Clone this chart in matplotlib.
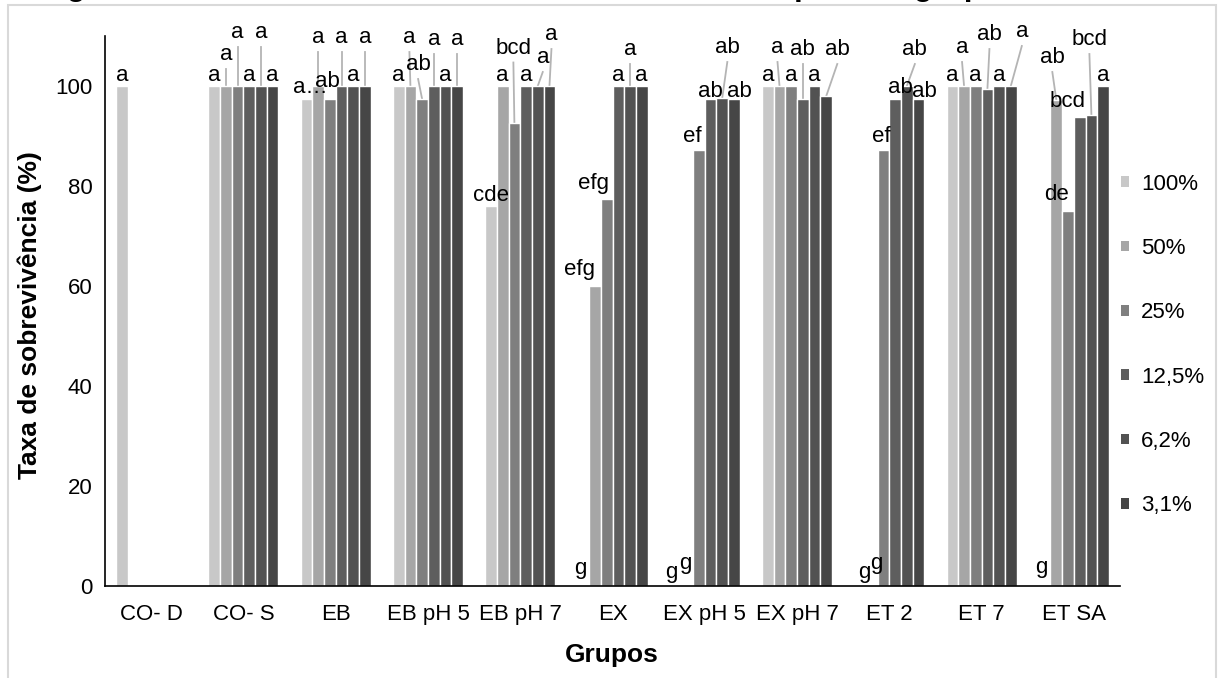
import numpy as np
import matplotlib.pyplot as plt
from matplotlib.patches import Patch, Rectangle

plt.rcParams['font.family'] = ['Liberation Sans', 'DejaVu Sans']

groups = ['CO- D', 'CO- S', 'EB', 'EB pH 5', 'EB pH 7', 'EX', 'EX pH 5',
          'EX pH 7', 'ET 2', 'ET 7', 'ET SA']
series = ['100%', '50%', '25%', '12,5%', '6,2%', '3,1%']

# survival rate (%) per dilution
v100 = [100, 100, 97.5, 100, 76.0, 0, 0, 100, 0, 100, 0]
v50 = [0, 100, 100, 100, 100, 60.0, 0, 100, 0, 100, 97.2]
v25 = [0, 100, 97.5, 97.4, 92.7, 77.4, 87.3, 100, 87.3, 100, 75.1]
v12 = [0, 100, 100, 100, 100, 100, 97.4, 97.4, 97.4, 99.5, 93.9]
v6 = [0, 100, 100, 100, 100, 100, 97.7, 100, 100, 100, 94.3]
v3 = [0, 100, 100, 100, 100, 100, 97.4, 98.0, 97.4, 100, 100]

# significance letters
l100 = ['a', 'a', 'a…', 'a', 'cde', 'g', 'g', 'a', 'g', 'a', 'g']
l50 = ['', 'a', 'a', 'a', 'a', 'efg', 'g', 'a', 'g', 'a', 'ab']
l25 = ['', 'a', 'ab', 'ab', 'bcd', 'efg', 'ef', 'a', 'ef', 'a', 'de']
l12 = ['', 'a', 'a', 'a', 'a', 'a', 'ab', 'ab', 'ab', 'ab', 'bcd']
l6 = ['', 'a', 'a', 'a', 'a', 'a', 'ab', 'a', 'ab', 'a', 'bcd']
l3 = ['', 'a', 'a', 'a', 'a', 'a', 'ab', 'ab', 'ab', 'a', 'a']

values = [v100, v50, v25, v12, v6, v3]
letters = [l100, l50, l25, l12, l6, l3]
colors = ['#c8c8c8', '#a6a6a6', '#7f7f7f', '#5e5e5e', '#525252', '#464646']

# label placement: (group, series) -> (baseline y, x shift in px, leader line)
label_pos = {
    (1, 1): (105.2, 0, True), (1, 2): (109.6, 0, True), (1, 4): (109.6, 0, True),
    (2, 0): (98.6, 4, False), (2, 1): (108.6, 0, True), (2, 2): (99.8, -2, False),
    (2, 3): (108.6, 0, True), (2, 5): (108.6, 0, True),
    (3, 1): (108.6, -1, True), (3, 2): (103.2, -4, True), (3, 3): (108.2, 0, True),
    (3, 5): (108.2, 0, True),
    (4, 2): (106.5, -1, True), (4, 4): (104.6, 5, True), (4, 5): (109.2, 2, True),
    (5, 0): (2.4, -3, False), (5, 1): (62.2, -15, False), (5, 2): (79.4, -13, False),
    (5, 4): (106.2, 0, True),
    (6, 0): (1.6, -4, False), (6, 1): (3.4, -2, False), (6, 2): (88.8, -7, False),
    (6, 3): (97.8, 0, False), (6, 4): (106.6, 5, True), (6, 5): (97.8, 5, False),
    (7, 1): (106.6, -2, True), (7, 3): (106.2, 0, True), (7, 5): (106.2, 11, True),
    (8, 0): (1.6, 4, False), (8, 1): (3.4, 5, False), (8, 2): (88.8, -2, False),
    (8, 3): (98.6, 5, False), (8, 4): (106.2, 8, True), (8, 5): (97.8, 6, False),
    (9, 1): (106.6, -2, True), (9, 3): (109.2, 2, True), (9, 5): (109.8, 11, True),
    (10, 0): (2.6, -3, False), (10, 1): (104.6, -4, True), (10, 2): (77.2, -12, False),
    (10, 3): (95.8, -12, False), (10, 4): (108.2, -2, True),
}

W, H = 1219, 678
fig = plt.figure(figsize=(W / 100, H / 100), dpi=100)
ax = fig.add_axes([105 / W, 1 - 586 / H, 1015 / W, 550 / H])

x = np.arange(len(groups))
w = 0.1267
px = len(groups) / 1015  # data units per pixel

for i in range(len(series)):
    ax.bar(x + (i - 2.5) * w, values[i], width=w, color=colors[i],
           edgecolor='white', linewidth=1, zorder=2)

for i in range(len(series)):
    for g in range(len(groups)):
        txt = letters[i][g]
        if not txt:
            continue
        bx = g + (i - 2.5) * w
        top = values[i][g]
        y, dx, lead = label_pos.get((g, i), (top + 1.0, 0, False))
        tx = bx + dx * px
        if lead:
            ax.plot([bx, tx], [top, y - 1.8], color='#b4b4b4', lw=1.3,
                    clip_on=False, zorder=1)
        ax.text(tx, y, txt, ha='center', va='baseline', fontsize=16,
                clip_on=False, zorder=3)

ax.set_xlim(-0.5, len(groups) - 0.5)
ax.set_ylim(0, 110)
ax.set_xticks(x)
ax.set_xticklabels(groups)
ax.set_yticks(np.arange(0, 101, 20))
ax.tick_params(axis='both', length=0, labelsize=16)
ax.tick_params(axis='x', pad=13)
ax.tick_params(axis='y', pad=9)
for s in ['top', 'right']:
    ax.spines[s].set_visible(False)
ax.spines['left'].set_linewidth(1.2)
ax.spines['bottom'].set_linewidth(1.2)

fig.text(30 / W, 1 - 315 / H, 'Taxa de sobrevivência (%)', rotation=90,
         ha='center', va='center', fontsize=19, fontweight='bold')
fig.text(612 / W, 1 - 655 / H, 'Grupos', ha='center', va='center',
         fontsize=19, fontweight='bold')

handles = [Patch(facecolor=c, label=s) for c, s in zip(colors, series)]
fig.legend(handles=handles, loc='center left',
           bbox_to_anchor=(1121 / W, 1 - 345 / H), frameon=False,
           borderpad=0, borderaxespad=0, handlelength=0.35, handleheight=0.35,
           handletextpad=0.55, labelspacing=1.95, fontsize=16)

fig.patches.append(Rectangle((8 / W, -0.1), 1208 / W, 1.1 - 5 / H,
                             transform=fig.transFigure, fill=False,
                             edgecolor='#d9d9d9', lw=1.5))
fig.text(1170 / W, 1 + 5 / H,
         'Figura 6 - Taxa de sobrevivência de Artemia salina para os grupos avaliados',
         ha='right', va='baseline', fontsize=22.5, fontweight='bold')

fig.savefig('out.png', dpi=100)
